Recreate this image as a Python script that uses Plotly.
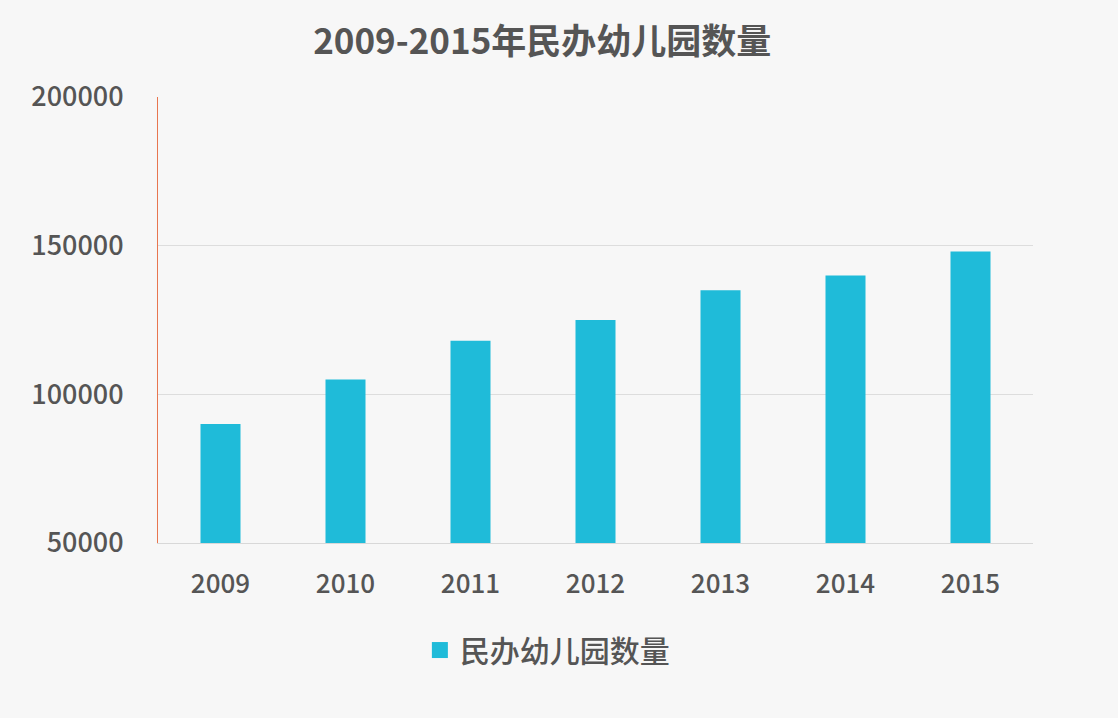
import plotly.graph_objects as go

# data
years = ["2009", "2010", "2011", "2012", "2013", "2014", "2015"]
counts = [90000, 105000, 118000, 125000, 135000, 140000, 148000]
series_name = "民办幼儿园数量"
title_text = "2009-2015年民办幼儿园数量"
y_ticks = [50000, 100000, 150000, 200000]

FONT = "Noto Sans CJK SC"
TEXT = "#555555"
BAR = "#1fbbd9"

fig = go.Figure()
fig.add_trace(go.Bar(x=years, y=counts, name=series_name, showlegend=False,
                     marker=dict(color=BAR, line=dict(width=0))))
# legend entry with a bigger square than plotly's bar swatch
fig.add_trace(go.Scatter(x=[None], y=[None], mode="markers", name=series_name,
                         marker=dict(symbol="square", size=17, color=BAR)))

fig.update_layout(
    width=1118, height=718,
    paper_bgcolor="#f7f7f7", plot_bgcolor="#f7f7f7",
    margin=dict(l=158, r=85, t=97, b=175),
    bargap=0.68,
    font=dict(family=FONT, color=TEXT, size=26, weight=500),
    title=dict(text=title_text, x=0.485, xanchor="center", y=0.942, yanchor="middle",
               font=dict(family=FONT, size=35, color=TEXT, weight="bold")),
    showlegend=True,
    legend=dict(orientation="h", x=0.445, xanchor="center", y=-0.24, yanchor="middle",
                font=dict(family=FONT, size=30, color=TEXT, weight=500),
                bgcolor="rgba(0,0,0,0)", itemwidth=30),
)
fig.update_yaxes(range=[50000, 200000], tickvals=y_ticks, tickformat="d",
                 tickfont=dict(size=27),
                 showgrid=True, gridcolor="#dddddd", gridwidth=1,
                 showline=True, linecolor="#e8764f", linewidth=1,
                 zeroline=False, ticks="", ticklabelstandoff=28)
fig.update_xaxes(showline=True, linecolor="#d8d8d8", linewidth=1,
                 ticks="", ticklabelstandoff=18)

fig.write_html("out.html", config={"displayModeBar": False},
               post_script="document.body.style.margin='0';")
